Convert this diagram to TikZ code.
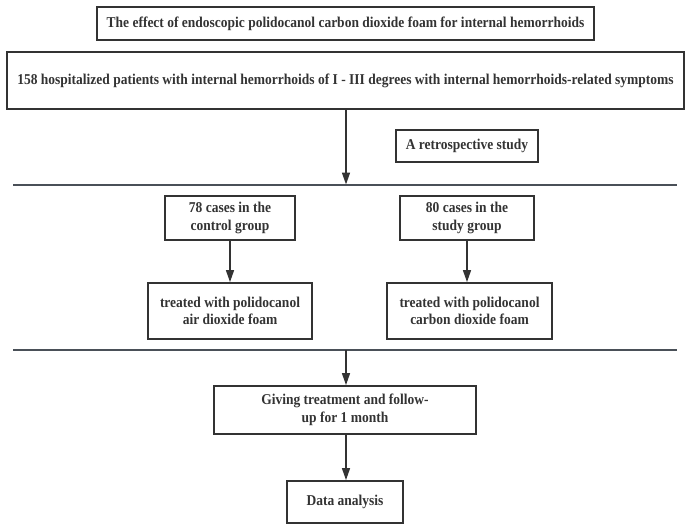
\documentclass[tikz,border=0pt]{standalone}
\usepackage{fontspec}
\setmainfont{Liberation Serif}[FakeStretch=0.9]
\usetikzlibrary{arrows.meta}
\definecolor{ink}{HTML}{333333}
\definecolor{rule}{HTML}{4A5058}
\begin{document}
\begin{tikzpicture}[x=1pt,y=-1pt,
  font=\fontsize{15}{17.5}\selectfont\bfseries,
  box/.style={draw=ink,line width=1.8pt,text=ink,align=center,inner sep=0pt},
  flow/.style={draw=ink,line width=1.5pt,-{Triangle[length=12pt,width=8pt]}},
  sep/.style={draw=rule,line width=2pt}]
\useasboundingbox (0,0) rectangle (694,527);

% boxes, centred on their pixel positions
\node[box,minimum width=497pt,minimum height=33pt] (title) at (345.5,23.5)
  {The effect of endoscopic polidocanol carbon dioxide foam for internal hemorrhoids};
\node[box,minimum width=677pt,minimum height=57pt] (cohort) at (345.5,80.5)
  {158 hospitalized patients with internal hemorrhoids of I - III degrees with internal hemorrhoids-related symptoms};
\node[box,minimum width=142pt,minimum height=32pt] (retro) at (467,146)
  {A retrospective study};
\node[box,minimum width=130pt,minimum height=44pt] (ctrl) at (230,218)
  {78 cases in the\\control group};
\node[box,minimum width=134pt,minimum height=44pt] (stud) at (467,218)
  {80 cases in the\\study group};
\node[box,minimum width=164pt,minimum height=56pt] (ctrlT) at (230,311)
  {treated with polidocanol\\air dioxide foam};
\node[box,minimum width=165pt,minimum height=56pt] (studT) at (469.5,311)
  {treated with polidocanol\\carbon dioxide foam};
\node[box,minimum width=262pt,minimum height=48pt] (follow) at (345,410)
  {Giving treatment and follow-\\up for 1 month};
\node[box,minimum width=116pt,minimum height=42pt] (data) at (345,502)
  {Data analysis};

% separating rules
\coordinate (r1l) at (13,184.5);
\coordinate (r1r) at (677,184.5);
\coordinate (r2l) at (13,350);
\coordinate (r2r) at (677,350);
\coordinate (r1m) at (346,184.5);
\coordinate (r2m) at (346,350);
\draw[sep] (r1l) -- (r1r);
\draw[sep] (r2l) -- (r2r);

% connectors
\draw[flow] (cohort.south -| r1m) -- (r1m);
\draw[flow] (ctrl.south) -- (ctrlT.north);
\draw[flow] (stud.south) -- (studT.north -| stud.south);
\draw[flow] (r2m) -- (follow.north -| r2m);
\draw[flow] (follow.south -| r2m) -- (data.north -| r2m);
\end{tikzpicture}
\end{document}
